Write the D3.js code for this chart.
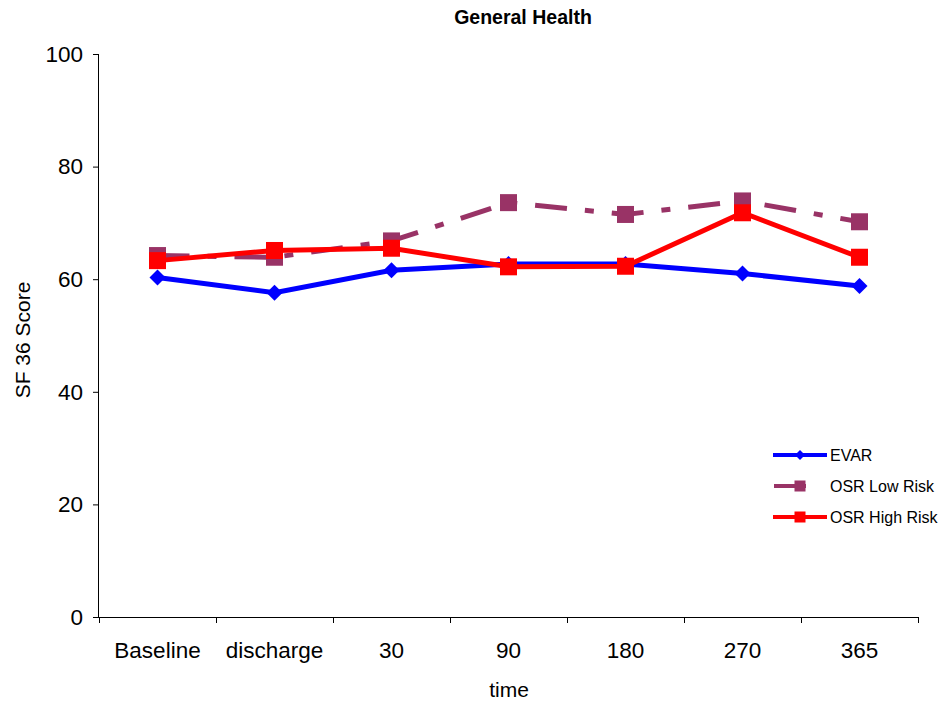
<!DOCTYPE html>
<html><head><meta charset="utf-8">
<script src="https://cdn.jsdelivr.net/npm/d3@7"></script>
<style>body{margin:0;background:#fff}svg{display:block}text{font-family:Arial,"Liberation Sans",sans-serif}</style>
</head><body>
<svg id="c" width="944" height="704"></svg>
<script>
const categories = ["Baseline","discharge","30","90","180","270","365"];
const evar      = [60.3, 57.6, 61.6, 62.7, 62.7, 61.0, 58.8];
const osrLow    = [64.2, 63.9, 66.8, 73.6, 71.5, 73.9, 70.2];
const osrHigh   = [63.3, 65.1, 65.5, 62.2, 62.3, 71.8, 63.9];
const yTicks    = [0, 20, 40, 60, 80, 100];
const seriesNames = ["EVAR","OSR Low Risk","OSR High Risk"];

const svg = d3.select("#c");
const L = 99, R = 918, T = 54, B = 617;
const x = d3.scaleBand().domain(categories).range([L, R]);
const y = d3.scaleLinear().domain([0, 100]).range([B, T]);
const FF = "Arial, Liberation Sans, sans-serif";

svg.append("text").attr("x", 523).attr("y", 24).attr("text-anchor","middle")
  .attr("font-weight","bold").attr("font-size",19.5).text("General Health");

const ya = svg.append("g").attr("transform",`translate(${L},0)`)
  .call(d3.axisLeft(y).tickValues(yTicks).tickSize(6).tickPadding(10));
ya.select(".domain").attr("stroke","#000").attr("d",`M-0.5,${T}V${B}`);
ya.selectAll("text").attr("font-size",22.5).attr("fill","#000").attr("font-family",FF);
ya.selectAll("line").attr("stroke","#000");

const xa = svg.append("g").attr("transform",`translate(0,${B})`)
  .call(d3.axisBottom(x).tickSize(0).tickPadding(25));
xa.select(".domain").attr("stroke","#000").attr("d",`M${L},0.5H${R}`);
xa.selectAll("text").attr("font-size",22.5).attr("fill","#000").attr("font-family",FF);
const bounds = categories.map(c => x(c)).concat([x(categories[categories.length-1]) + x.bandwidth()]);
xa.selectAll("line.b").data(bounds).join("line").attr("class","b")
  .attr("x1", d => Math.round(d)+0.5).attr("x2", d => Math.round(d)+0.5)
  .attr("y1", 0).attr("y2", 6).attr("stroke","#000");

svg.append("text").attr("x", 509).attr("y", 697).attr("text-anchor","middle")
  .attr("font-size",21).text("time");
svg.append("text").attr("transform","translate(30,340) rotate(-90)").attr("text-anchor","middle")
  .attr("font-size",21).text("SF 36 Score");

const cx = c => x(c) + x.bandwidth()/2;
const line = d3.line().x((d,i) => cx(categories[i])).y(d => y(d));
const dash = "32,18,9,18";

const diamond = (g, px, py, s, col) => g.append("path")
  .attr("d", `M${px},${py-s}L${px+s},${py}L${px},${py+s}L${px-s},${py}Z`).attr("fill", col);
const square = (g, px, py, s, col) => g.append("rect")
  .attr("x", px-s/2).attr("y", py-s/2).attr("width", s).attr("height", s).attr("fill", col);

const series = [
  {name: seriesNames[0], vals: evar, col: "#0000ff", dash: null, mark: "d"},
  {name: seriesNames[1], vals: osrLow, col: "#993366", dash: dash, mark: "s"},
  {name: seriesNames[2], vals: osrHigh, col: "#ff0000", dash: null, mark: "s"}
];
const g = svg.append("g");
series.forEach(s => {
  g.append("path").attr("d", line(s.vals)).attr("fill","none").attr("stroke", s.col)
    .attr("stroke-width", 5).attr("stroke-dasharray", s.dash);
  s.vals.forEach((v,i) => {
    if (s.mark === "d") diamond(g, cx(categories[i]), y(v), 8, s.col);
    else square(g, cx(categories[i]), y(v), 17, s.col);
  });
});

const lg = svg.append("g");
series.forEach((s,i) => {
  const ly = 455 + i*31;
  const x1 = s.dash ? 774 : 773, x2 = s.dash ? 806 : 827;
  lg.append("line").attr("x1", x1).attr("x2", x2).attr("y1", ly).attr("y2", ly)
    .attr("stroke", s.col).attr("stroke-width", 4);
  if (s.mark === "d") diamond(lg, 800, ly, 5, s.col); else square(lg, 800, ly, 11, s.col);
  lg.append("text").attr("x", 830).attr("y", ly+6).attr("font-size",16).text(s.name);
});
</script>
</body></html>
